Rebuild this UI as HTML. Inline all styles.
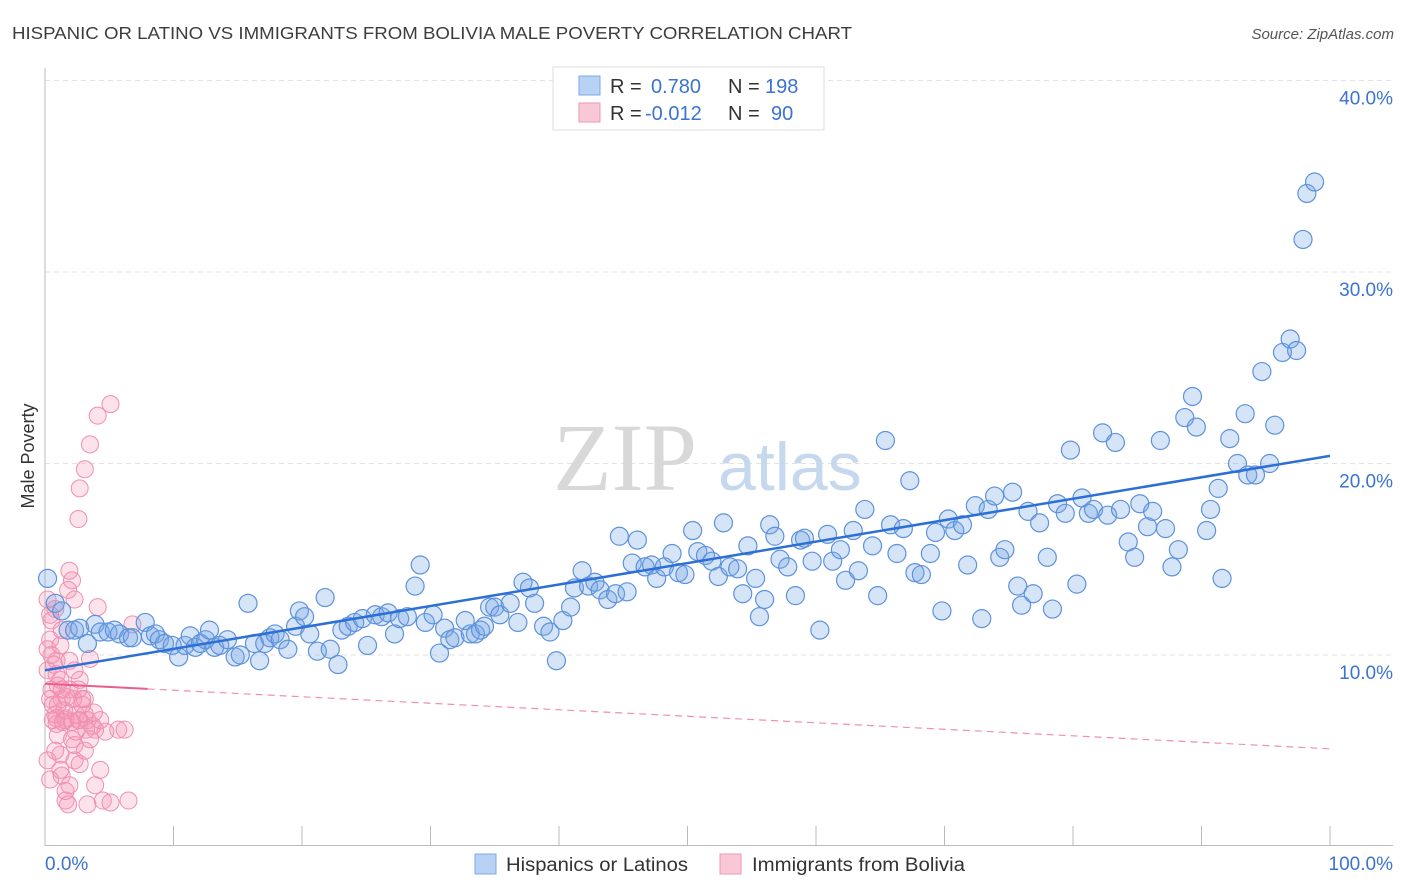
<!DOCTYPE html>
<html><head><meta charset="utf-8">
<style>
body{margin:0;background:#fff;font-family:"Liberation Sans",sans-serif;}
#wrap{position:relative;width:1406px;height:892px;overflow:hidden;}
svg{position:absolute;left:0;top:0;}
</style></head>
<body>
<div id="wrap">
<svg id="chart" width="1406" height="892" xmlns="http://www.w3.org/2000/svg">
<text x="12" y="39" font-size="17.5" fill="#3d3d3d" textLength="840" lengthAdjust="spacingAndGlyphs">HISPANIC OR LATINO VS IMMIGRANTS FROM BOLIVIA MALE POVERTY CORRELATION CHART</text>
<text x="1394" y="39" font-size="15" fill="#555" font-style="italic" text-anchor="end">Source: ZipAtlas.com</text>
<text x="0" y="0" font-size="18" fill="#333" transform="translate(34,456) rotate(-90)" text-anchor="middle">Male Poverty</text>
<g id="grid"></g>
<g>
<text x="553" y="490" font-size="96" fill="#d8d8d8" font-family="Liberation Serif,serif">ZIP</text>
<text x="718" y="490" font-size="68" fill="#c6d8ee">atlas</text>
</g>
<g id="axes"></g>
<g id="pink"></g>
<g id="blue"></g>
<g id="trend"></g>
<g>
<rect x="553" y="67" width="271" height="63" fill="#fff" stroke="#ddd"/>
<rect x="579" y="76" width="21" height="19" fill="#b7d2f5" stroke="#7ea8e6"/>
<rect x="579" y="103" width="21" height="19" fill="#f9c8d7" stroke="#f095b3"/>
<text x="610" y="93" font-size="20" fill="#333">R = <tspan fill="#3b73d1" x="651">0.780</tspan><tspan x="728" fill="#333">N = </tspan><tspan fill="#3b73d1" x="765">198</tspan></text>
<text x="610" y="120" font-size="20" fill="#333">R = <tspan fill="#3b73d1" x="645">-0.012</tspan><tspan x="728" fill="#333">N = </tspan><tspan fill="#3b73d1" x="771">90</tspan></text>
</g>
<g>
<rect x="475" y="854" width="21" height="20" fill="#b7d2f5" stroke="#7ea8e6"/>
<text x="506" y="871" font-size="19" fill="#333" textLength="182" lengthAdjust="spacingAndGlyphs">Hispanics or Latinos</text>
<rect x="720" y="854" width="21" height="20" fill="#f9c8d7" stroke="#f095b3"/>
<text x="752" y="871" font-size="19" fill="#333" textLength="213" lengthAdjust="spacingAndGlyphs">Immigrants from Bolivia</text>
</g>
</svg>
</div>
<script>
const yTicks=[10,20,30,40];
const yTickLabels=["10.0%","20.0%","30.0%","40.0%"];
const xTickLabels=["0.0%","100.0%"];
const blueX=[0.2,0.8,1.3,1.8,2.3,2.7,3.3,3.9,4.3,4.9,5.4,5.8,6.5,6.8,7.8,8.2,8.6,8.9,9.3,9.9,10.4,10.9,11.3,11.7,12.1,12.5,12.8,13.2,13.6,14.2,14.8,15.2,15.8,16.3,16.7,17.1,17.5,17.9,18.3,18.9,19.5,19.8,20.2,20.6,21.2,21.8,22.2,22.8,23.1,23.6,24.1,24.7,25.1,25.7,26.2,26.7,27.2,27.6,28.2,28.8,29.2,29.6,30.2,30.7,31.1,31.5,31.9,32.7,33.1,33.5,33.9,34.2,34.6,35.0,35.4,36.2,36.8,37.2,37.7,38.1,38.8,39.3,39.8,40.3,40.9,41.2,41.8,42.3,42.8,43.2,43.8,44.4,44.7,45.3,45.7,46.1,46.7,47.2,47.6,48.2,48.8,49.3,49.8,50.4,50.8,51.4,51.9,52.4,52.8,53.3,53.9,54.3,54.7,55.3,55.6,56.0,56.4,56.8,57.2,57.8,58.4,58.8,59.1,59.7,60.3,60.9,61.3,61.9,62.3,62.9,63.3,63.8,64.4,64.8,65.4,65.8,66.3,66.8,67.3,67.7,68.2,68.9,69.3,69.8,70.3,70.8,71.4,71.8,72.4,72.9,73.4,73.9,74.3,74.7,75.3,75.7,76.0,76.5,76.9,77.4,78.0,78.4,78.8,79.4,79.8,80.3,80.7,81.2,81.6,82.3,82.7,83.3,83.7,84.3,84.8,85.2,85.8,86.2,86.8,87.2,87.7,88.2,88.7,89.3,89.6,90.4,90.7,91.3,91.6,92.2,92.8,93.4,93.6,94.2,94.7,95.3,95.7,96.3,96.9,97.4,97.9,98.2,98.8];
const blueY=[14.0,12.7,12.3,11.3,11.3,11.4,10.6,11.6,11.2,11.2,11.3,11.1,10.9,10.9,11.7,11.0,11.1,10.8,10.6,10.5,9.9,10.5,11.0,10.4,10.6,10.8,11.3,10.4,10.5,10.8,9.9,10.0,12.7,10.6,9.7,10.6,10.9,11.1,10.8,10.3,11.5,12.3,12.0,11.1,10.2,13.0,10.3,9.5,11.3,11.5,11.7,11.9,10.5,12.1,12.0,12.2,11.1,11.9,12.0,13.6,14.7,11.7,12.1,10.1,11.4,10.8,10.9,11.8,11.1,11.1,11.3,11.5,12.5,12.5,12.1,12.7,11.7,13.8,13.5,12.7,11.5,11.2,9.7,11.8,12.5,13.5,14.4,13.6,13.8,13.4,12.9,13.2,16.2,13.3,14.8,16.0,14.6,14.7,14.0,14.6,15.3,14.3,14.2,16.5,15.4,15.2,14.9,14.1,16.9,14.6,14.5,13.2,15.7,14.0,12.0,12.9,16.8,16.2,15.0,14.6,13.1,16.0,16.1,14.9,11.3,16.3,14.9,15.5,13.9,16.5,14.4,17.6,15.7,13.1,21.2,16.8,15.3,16.6,19.1,14.3,14.2,15.3,16.4,12.3,17.1,16.5,16.8,14.7,17.8,11.9,17.6,18.3,15.1,15.5,18.5,13.6,12.6,17.5,13.2,16.9,15.1,12.4,17.9,17.4,20.7,13.7,18.2,17.4,17.6,21.6,17.3,21.1,17.6,15.9,15.1,17.9,16.7,17.5,21.2,16.6,14.6,15.5,22.4,23.5,21.9,16.5,17.6,18.7,14.0,21.3,20.0,22.6,19.4,19.4,24.8,20.0,22.0,25.8,26.5,25.9,31.7,34.1,34.7];
const pinkX=[0.2,0.2,0.4,0.5,0.8,0.9,1.2,1.3,1.6,1.8,1.9,2.1,2.3,2.6,2.7,3.1,3.5,4.1,5.1,0.5,0.8,1.0,1.2,1.3,1.6,1.8,2.1,2.3,2.7,3.1,3.3,3.9,4.3,4.5,5.1,5.7,6.2,6.5,6.8,0.4,0.6,0.9,1.0,1.3,1.5,1.6,1.9,2.2,2.4,2.6,2.7,2.9,3.1,3.3,3.5,3.7,3.9,4.1,4.3,4.7,0.5,0.7,0.9,1.0,1.2,1.3,0.2,0.4,0.8,1.2,1.6,1.9,2.3,2.7,3.1,1.9,2.3,2.6,2.9,3.2,3.5,3.8,0.2,0.4,0.6,0.9,1.4,1.7,2.1,2.4];
const pinkY=[9.2,10.3,10.8,11.8,12.4,9.7,8.7,7.7,6.6,13.4,14.4,13.9,12.9,17.1,18.7,19.7,21.0,22.5,23.1,8.2,6.9,5.8,4.8,3.7,2.4,2.2,5.6,4.5,6.6,7.7,2.2,3.2,4.0,2.4,2.3,6.1,6.1,2.4,11.6,7.7,6.6,6.4,7.4,8.2,7.1,6.7,8.2,7.7,6.9,6.6,8.7,7.4,6.9,6.6,9.8,6.3,6.1,12.5,6.6,6.0,10.0,9.5,9.0,8.4,10.5,11.3,4.5,3.5,5.0,4.0,2.9,3.2,5.3,4.3,5.0,9.7,9.2,8.2,7.7,6.1,5.6,7.0,12.9,12.1,7.4,6.7,6.5,7.8,6.5,6.0];
const blueTrend=[9.2,20.4];
const pinkTrend=[8.5,5.1];
const pinkSolidEnd=8;

const NS="http://www.w3.org/2000/svg";
const X0=45,X1=1330,YB=846.5,PPY=19.15;
function sx(v){return X0+(X1-X0)*v/100;}
function sy(v){return YB-v*PPY;}
function mk(tag,attrs,parent){const e=document.createElementNS(NS,tag);for(const k in attrs)e.setAttribute(k,attrs[k]);parent.appendChild(e);return e;}
const grid=document.getElementById('grid'),axes=document.getElementById('axes');
yTicks.forEach((t,i)=>{
  const l=mk('line',{x1:45,x2:1393,y1:sy(t),y2:sy(t),stroke:'#e2e2e2','stroke-dasharray':'5,4'},grid);
  
  
  const tx=mk('text',{x:1393,y:sy(t)+24,'font-size':19,fill:'#3b73d1','text-anchor':'end'},axes);
  tx.textContent=yTickLabels[i];
  
  
});
let a=mk('line',{x1:45,x2:45,y1:68,y2:846,stroke:'#bbb'},axes);


a=mk('line',{x1:45,x2:1393,y1:845.5,y2:845.5,stroke:'#bbb'},axes);


for(let i=1;i<=10;i++){
  const t=mk('line',{x1:sx(i*10),x2:sx(i*10),y1:826,y2:846,stroke:'#bbb'},axes);
  
  
}
let xl=mk('text',{x:45,y:870,'font-size':19,fill:'#3b73d1'},axes);xl.textContent=xTickLabels[0];


xl=mk('text',{x:1393,y:870,'font-size':19,fill:'#3b73d1','text-anchor':'end'},axes);xl.textContent=xTickLabels[1];



const pg=document.getElementById('pink');
pinkX.forEach((x,i)=>{
  const c=mk('circle',{cx:sx(x),cy:sy(pinkY[i]),r:8.5,fill:'rgba(244,150,182,0.28)',stroke:'#f08fb0','stroke-width':1},pg);
  
  
});
const bg=document.getElementById('blue');
blueX.forEach((x,i)=>{
  const c=mk('circle',{cx:sx(x),cy:sy(blueY[i]),r:9,fill:'rgba(120,165,230,0.3)',stroke:'#5d92dc','stroke-width':1.2},bg);
  
  
});
const tg=document.getElementById('trend');
let tl=mk('line',{x1:sx(0),y1:sy(blueTrend[0]),x2:sx(100),y2:sy(blueTrend[1]),stroke:'#2c6fd6','stroke-width':2.5},tg);


const pAt=v=>pinkTrend[0]+(pinkTrend[1]-pinkTrend[0])*v/100;
tl=mk('line',{x1:sx(0),y1:sy(pinkTrend[0]),x2:sx(pinkSolidEnd),y2:sy(pAt(pinkSolidEnd)),stroke:'#ec5c8c','stroke-width':2},tg);


tl=mk('line',{x1:sx(pinkSolidEnd),y1:sy(pAt(pinkSolidEnd)),x2:sx(100),y2:sy(pinkTrend[1]),stroke:'#f08fb0','stroke-width':1.2,'stroke-dasharray':'7,5'},tg);


</script>
</body></html>
